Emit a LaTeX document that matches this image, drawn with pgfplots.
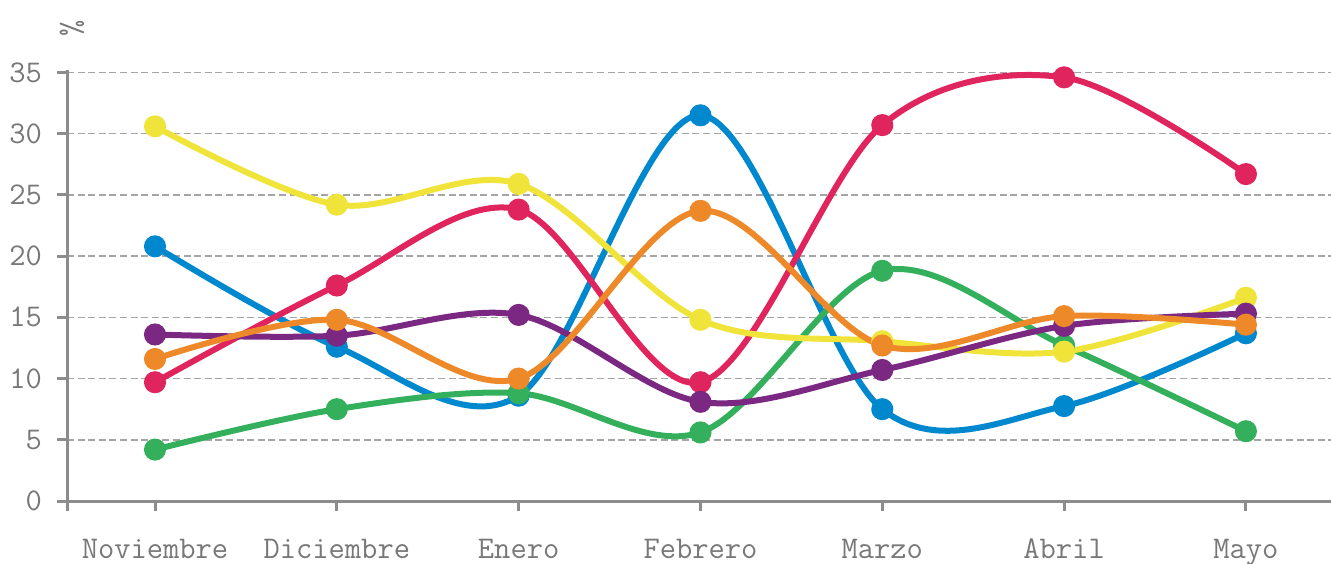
\documentclass[border=0pt]{standalone}
\usepackage{fontspec}
\usepackage{pgfplots}
\pgfplotsset{compat=1.18}

\definecolor{cyellow}{RGB}{240,228,58}
\definecolor{cblue}{RGB}{0,136,206}
\definecolor{cred}{RGB}{224,36,94}
\definecolor{corange}{RGB}{238,137,42}
\definecolor{cpurple}{RGB}{122,40,130}
\definecolor{cgreen}{RGB}{52,176,92}
\definecolor{gridgray}{RGB}{165,165,165}
\definecolor{axisgray}{RGB}{140,140,140}
\definecolor{txtgray}{RGB}{120,120,120}

\pgfplotsset{
  serie/.style={smooth, tension=0.55, line width=3pt, color=#1,
    mark=*, mark size=4pt, mark options={solid, fill=#1}},
}

\begin{document}
\begin{tikzpicture}
\begin{axis}[
  name=ax,
  scale only axis,
  width=632pt, height=215.5pt,
  xmin=-0.484, xmax=6.468,
  ymin=0, ymax=35.2,
  clip=false,
  axis x line*=bottom, axis y line*=left,
  axis line style={draw=axisgray, line width=1.5pt, -},
  xtick={0,...,6},
  xticklabels={Noviembre,Diciembre,Enero,Febrero,Marzo,Abril,Mayo},
  extra x ticks={-0.484}, extra x tick labels={},
  ytick={0,5,...,35},
  tick align=outside,
  major tick length=5pt,
  tick style={draw=axisgray, line width=1.5pt},
  ymajorgrids,
  major grid style={draw=gridgray, line width=0.8pt, dash pattern=on 3.5pt off 1.8pt},
  /pgf/number format/assume math mode=true,
  tick label style={font=\ttfamily\fontsize{15.8}{16}\selectfont, text=txtgray},
  xticklabel style={yshift=-10.5pt},
  yticklabel style={xshift=-4pt},
]
\addplot[serie=cblue] coordinates {(0,20.8) (1,12.6) (2,8.6) (3,31.5) (4,7.5) (5,7.75) (6,13.7)};
\addplot[serie=cred] coordinates {(0,9.7) (1,17.6) (2,23.8) (3,9.7) (4,30.7) (5,34.6) (6,26.7)};
\addplot[serie=cgreen] coordinates {(0,4.2) (1,7.5) (2,8.8) (3,5.6) (4,18.8) (5,12.7) (6,5.7)};
\addplot[serie=cyellow] coordinates {(0,30.6) (1,24.2) (2,25.9) (3,14.8) (4,13.05) (5,12.2) (6,16.6)};
\addplot[serie=cpurple] coordinates {(0,13.6) (1,13.5) (2,15.2) (3,8.1) (4,10.7) (5,14.3) (6,15.3)};
\addplot[serie=corange] coordinates {(0,11.6) (1,14.8) (2,10.0) (3,23.7) (4,12.7) (5,15.1) (6,14.4)};
\node[rotate=90, text=txtgray, font=\ttfamily\fontsize{15.8}{16}\selectfont] at (rel axis cs:0.004,1.0975) {\%};
\end{axis}
\pgfresetboundingbox
\path ([xshift=-33.5pt,yshift=-31pt]ax.south west) rectangle ([yshift=35pt]ax.north east);
\end{tikzpicture}
\end{document}
